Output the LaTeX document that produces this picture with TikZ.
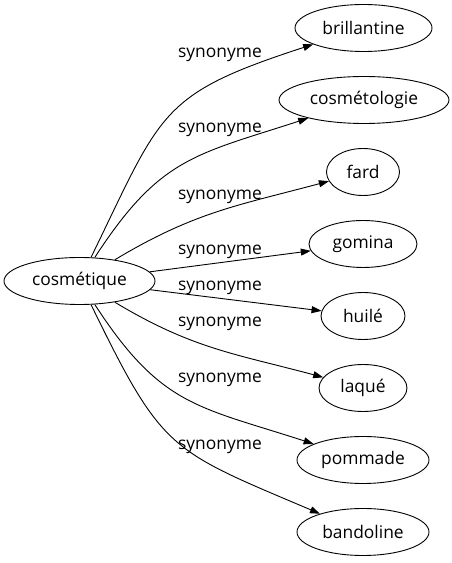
\documentclass[tikz,border=0pt]{standalone}
\usepackage{fontspec}
\setmainfont{Open Sans}
\usetikzlibrary{shapes.geometric,arrows.meta}
\begin{document}
\begin{tikzpicture}[x=1pt,y=1pt]
      \useasboundingbox (0,0) rectangle (452,563);

      \begin{scope}[every node/.style={ellipse,draw,line width=0.9pt,minimum height=47pt,inner sep=0pt,font=\fontsize{17.4}{20}\selectfont}]
        \node[minimum width=151pt] (cosmetique)   at (79.5,282)  {cosmétique};
        \node[minimum width=137pt] (brillantine)  at (363.5,535) {brillantine};
        \node[minimum width=170pt] (cosmetologie) at (364,463)   {cosmétologie};
        \node[minimum width=73pt]  (fard)         at (363,391)   {fard};
        \node[minimum width=108pt] (gomina)       at (363,319)   {gomina};
        \node[minimum width=84pt]  (huile)        at (363,247)   {huilé};
        \node[minimum width=88pt]  (laque)        at (363,175)   {laqué};
        \node[minimum width=132pt] (pommade)      at (363,103)   {pommade};
        \node[minimum width=132pt] (bandoline)    at (363,31)    {bandoline};
      \end{scope}

      \begin{scope}[every node/.style={inner sep=0pt,font=\fontsize{17.4}{20}\selectfont}]
        \node (syn1) at (220,508) {synonyme};
        \node (syn2) at (220,433) {synonyme};
        \node (syn3) at (220,366) {synonyme};
        \node (syn4) at (220,311) {synonyme};
        \node (syn5) at (220,275) {synonyme};
        \node (syn6) at (220,239) {synonyme};
        \node (syn7) at (220,183) {synonyme};
        \node (syn8) at (220,116) {synonyme};
      \end{scope}

      \begin{scope}[every edge/.style={draw,line width=0.9pt,-{Triangle[length=10pt,width=7pt]}}]
        \path (cosmetique) edge[out=64,in=198,looseness=1.35] (brillantine);
        \path (cosmetique) edge[out=57,in=198,looseness=1.2] (cosmetologie);
        \path (cosmetique) edge[out=31,in=195,looseness=1.05] (fard);
        \path (cosmetique) edge (gomina);
        \path (cosmetique) edge (huile);
        \path (cosmetique) edge[out=-31,in=165,looseness=1.05] (laque);
        \path (cosmetique) edge[out=-57,in=162,looseness=1.2] (pommade);
        \path (cosmetique) edge[out=-64,in=157,looseness=1.35] (bandoline);
      \end{scope}

    \end{tikzpicture}
\end{document}
